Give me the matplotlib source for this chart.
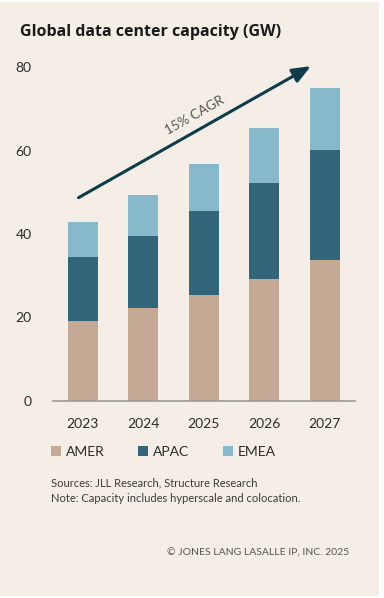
import matplotlib
matplotlib.use("Agg")
import matplotlib.pyplot as plt
from matplotlib.patches import Rectangle
import numpy as np

years = ["2023", "2024", "2025", "2026", "2027"]
amer = [19.2, 22.2, 25.5, 29.3, 33.7]
apac = [15.2, 17.4, 20.1, 23.0, 26.5]
emea = [8.5, 9.7, 11.2, 13.1, 14.8]
series_names = ["AMER", "APAC", "EMEA"]
colors = ["#c4aa94", "#326579", "#87b9cb"]
yticks = [0, 20, 40, 60, 80]

W, H = 384, 598
fig = plt.figure(figsize=(W / 100, H / 100), dpi=100, facecolor="white")
fig.patches.append(Rectangle((0, 2 / H), 379 / W, 594 / H, transform=fig.transFigure,
                             facecolor="#f5eee7", edgecolor="none", zorder=-10))

font = "Lato"
txt = "#2b2b2b"

ax = fig.add_axes([52.5 / W, (H - 401) / H, 302.5 / W, 334 / H])
ax.set_facecolor("none")
ax.set_zorder(1)
x = np.arange(len(years))
bottom = np.zeros(len(years))
for vals, name, c in zip([amer, apac, emea], series_names, colors):
    ax.bar(x, vals, width=0.5, bottom=bottom, color=c, label=name, zorder=2)
    bottom += np.array(vals)

ax.set_xlim(-0.5, 4.5)
ax.set_ylim(0, 80)
ax.set_yticks(yticks)
ax.set_yticklabels([str(v) for v in yticks], fontfamily=font, fontsize=10, color=txt)
ax.set_xticks(x)
ax.set_xticklabels(years, fontfamily=font, fontsize=10, color=txt)
ax.tick_params(axis="y", length=0, pad=15)
ax.tick_params(axis="x", length=0, pad=12)
for s in ["top", "right", "left"]:
    ax.spines[s].set_visible(False)
ax.spines["bottom"].set_color("#9a9a9a")
ax.spines["bottom"].set_linewidth(1.2)

ax.annotate("", xy=(3.77, 80.2), xytext=(-0.07, 48.7),
            arrowprops=dict(arrowstyle="-|>,head_length=1.1,head_width=0.45",
                            color="#0f3b4b", lw=2.2, shrinkA=0, shrinkB=0),
            annotation_clip=False, zorder=3)
fig.text(195 / W, 1 - 115 / H, "15% CAGR", rotation=29.5, ha="center", va="center",
         fontfamily=font, fontsize=9.6, color="#555555")

fig.text(20.5 / W, 1 - 32 / H, "Global data center capacity (GW)", ha="left", va="center",
         fontfamily="Open Sans", fontweight="bold", fontsize=11.5, color="#1a1a1a")

handles, labels = ax.get_legend_handles_labels()
leg = fig.legend(handles, labels, loc="center left", bbox_to_anchor=(38 / W, 1 - 452 / H),
                 ncol=3, frameon=False, handlelength=0.75, handleheight=0.75,
                 handletextpad=0.35, columnspacing=2.4,
                 prop={"family": font, "size": 10})
for t in leg.get_texts():
    t.set_color(txt)

fig.text(51 / W, 1 - 483 / H, "Sources: JLL Research, Structure Research", ha="left", va="center",
         fontfamily=font, fontsize=8, color="#3a3a3a")
fig.text(51 / W, 1 - 499 / H, "Note: Capacity includes hyperscale and colocation.", ha="left",
         va="center", fontfamily=font, fontsize=8, color="#3a3a3a")
fig.text(349 / W, 1 - 553 / H, "© JONES LANG LASALLE IP, INC. 2025", ha="right", va="center",
         fontfamily=font, fontsize=7.5, color="#555555")

fig.savefig("out.png", dpi=100, facecolor=fig.get_facecolor())
